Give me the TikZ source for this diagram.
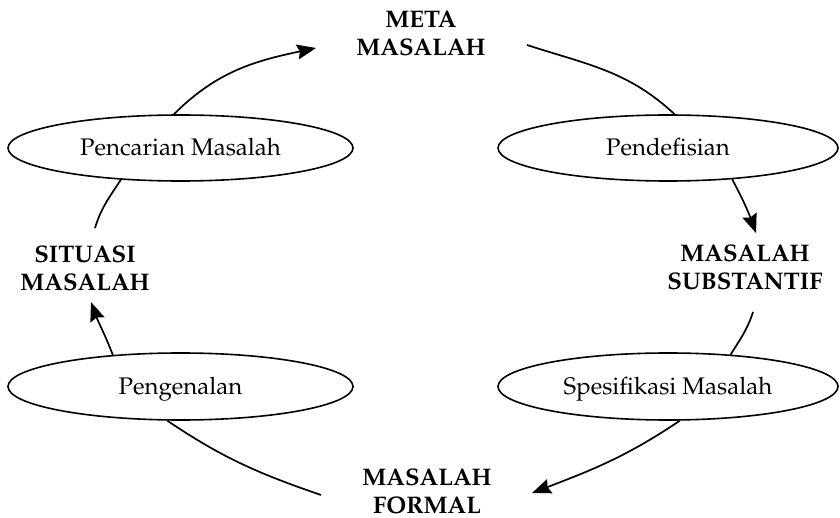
\documentclass[tikz,border=0pt]{standalone}
\usepackage[T1]{fontenc}
\renewcommand{\rmdefault}{ppl}
\usetikzlibrary{arrows.meta,shapes.geometric}

\begin{document}
\begin{tikzpicture}[x=1pt,y=1pt,
  stage/.style={draw, ellipse, line width=1.6pt, inner sep=0pt,
    font=\fontsize{24}{28}\selectfont, text height=15pt, text depth=0pt},
  state/.style={align=center, inner sep=0pt,
    font=\fontsize{24}{28}\selectfont\bfseries},
  flow/.style={line width=1.7pt},
  arrowflow/.style={flow, -{Stealth[length=19pt,width=15pt,inset=2.5pt]}}]
\useasboundingbox (0,0) rectangle (840,-518);

% process stages
\node[stage, minimum width=345pt, minimum height=66pt] (cari)  at (180.5,-148)   {Pencarian Masalah};
\node[stage, minimum width=340pt, minimum height=66pt] (defi)  at (668,-148)     {Pendefisian};
\node[stage, minimum width=345pt, minimum height=67pt] (kenal) at (180.5,-386.5) {Pengenalan};
\node[stage, minimum width=340pt, minimum height=67pt] (spes)  at (668,-386.5)   {Spesifikasi Masalah};

% problem states
\node[state] (meta) at (421,-33.2)  {META\\MASALAH};
\node[state] (situ) at (85,-268.2)  {SITUASI\\MASALAH};
\node[state] (subs) at (745,-267.7) {MASALAH\\SUBSTANTIF};
\node[state] (form) at (427,-491.2) {MASALAH\\FORMAL};

% free ends of the connectors beside the state labels
\coordinate (metaIn)  at (316,-48);
\coordinate (metaOut) at (527,-45);
\coordinate (subsIn)  at (756,-233);
\coordinate (subsOut) at (753,-312);
\coordinate (formIn)  at (532,-493);
\coordinate (formOut) at (321,-495);
\coordinate (situIn)  at (91,-302);
\coordinate (situOut) at (95,-228);

% the cycle
\draw[arrowflow] (cari.101) to[out=45,in=192] (metaIn);
\draw[flow] (metaOut) to[out=-18,in=137] (defi.79);
\draw[arrowflow] (defi.334) to[out=-62,in=110] (subsIn);
\draw[flow] (subsOut) to[out=-108,in=58] (spes.27);
\draw[arrowflow] (spes.289) to[out=214,in=21] (formIn);
\draw[flow] (kenal.249) to[out=-34,in=161] (formOut);
\draw[arrowflow] (kenal.155) to[out=111,in=-70] (situIn);
\draw[flow] (cari.208) to[out=237,in=73] (situOut);
\end{tikzpicture}
\end{document}
